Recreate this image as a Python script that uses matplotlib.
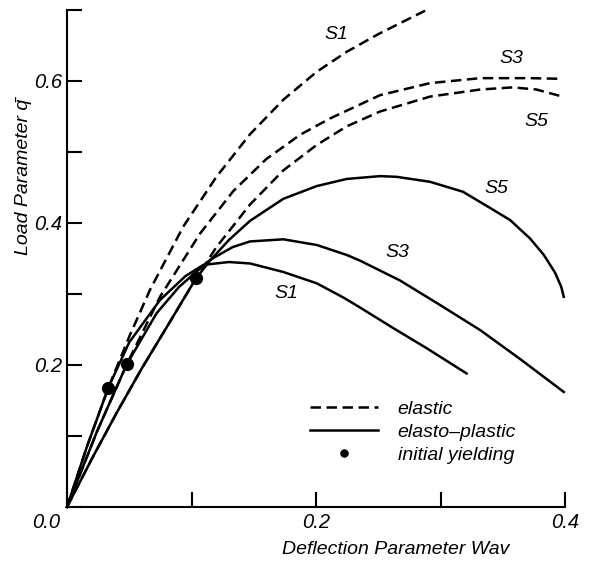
import matplotlib
matplotlib.use("Agg")
import matplotlib.pyplot as plt

plt.rcParams['font.family'] = ['Liberation Sans', 'DejaVu Sans']
plt.rcParams['font.style'] = 'italic'

# elastic curves (dashed)
w_el_s1 = [0, 0.016, 0.0332, 0.05, 0.0667, 0.0934, 0.120, 0.147, 0.174, 0.2006, 0.2246, 0.25, 0.2876]
q_el_s1 = [0, 0.085, 0.168, 0.240, 0.306, 0.395, 0.465, 0.525, 0.574, 0.613, 0.641, 0.666, 0.699]

w_el_s3 = [0, 0.024, 0.048, 0.0747, 0.1068, 0.1336, 0.16, 0.187, 0.211, 0.2514, 0.2916, 0.332, 0.372, 0.398]
q_el_s3 = [0, 0.106, 0.201, 0.296, 0.385, 0.445, 0.49, 0.524, 0.547, 0.58, 0.597, 0.604, 0.604, 0.603]

w_el_s5 = [0, 0.02, 0.04, 0.06, 0.08, 0.1036, 0.12, 0.147, 0.1737, 0.2006, 0.2246, 0.2514, 0.2916, 0.332, 0.358, 0.377, 0.398]
q_el_s5 = [0, 0.068, 0.133, 0.195, 0.253, 0.322, 0.366, 0.426, 0.474, 0.51, 0.536, 0.557, 0.578, 0.588, 0.591, 0.588, 0.578]

# elasto-plastic curves (solid)
w_pl_s1 = [0, 0.016, 0.0332, 0.05, 0.0747, 0.095, 0.1095, 0.13, 0.147, 0.1737, 0.2006, 0.222, 0.2353, 0.262, 0.289, 0.321]
q_pl_s1 = [0, 0.085, 0.168, 0.232, 0.2915, 0.325, 0.341, 0.345, 0.343, 0.331, 0.315, 0.295, 0.281, 0.252, 0.2235, 0.188]

w_pl_s3 = [0, 0.024, 0.048, 0.072, 0.09, 0.1149, 0.133, 0.147, 0.1737, 0.2006, 0.2246, 0.2353, 0.2675, 0.2996, 0.332, 0.365, 0.399]
q_pl_s3 = [0, 0.106, 0.201, 0.273, 0.31, 0.348, 0.366, 0.374, 0.377, 0.369, 0.355, 0.347, 0.319, 0.2845, 0.249, 0.207, 0.162]

w_pl_s5 = [0, 0.02, 0.04, 0.06, 0.08, 0.1036, 0.1149, 0.13, 0.147, 0.1737, 0.2006, 0.2246, 0.2515, 0.2648,
           0.2916, 0.318, 0.34, 0.356, 0.372, 0.383, 0.392, 0.397, 0.399]
q_pl_s5 = [0, 0.068, 0.133, 0.195, 0.253, 0.322, 0.347, 0.376, 0.403, 0.434, 0.452, 0.462, 0.466, 0.465,
           0.458, 0.444, 0.421, 0.404, 0.378, 0.355, 0.33, 0.31, 0.296]

# initial yielding points
w_yield = [0.0332, 0.048, 0.1036]
q_yield = [0.168, 0.201, 0.322]

curve_names = ['S1', 'S3', 'S5', 'S5', 'S3', 'S1']
name_pos = [(0.2166, 0.665), (0.357, 0.632), (0.377, 0.543),
            (0.345, 0.449), (0.265, 0.358), (0.1765, 0.301)]

x_ticks = [0, 0.1, 0.2, 0.3, 0.4]
x_tick_labels = ['', '', '0.2', '', '0.4']
y_ticks = [0, 0.1, 0.2, 0.3, 0.4, 0.5, 0.6, 0.7]
y_tick_labels = ['', '', '0.2', '', '0.4', '', '0.6', '']

fig = plt.figure(figsize=(5.92, 5.61), dpi=100)
ax = fig.add_axes([0.1132, 0.0963, 0.8412, 0.8859])

lw = 1.8
dash = (0, (4.2, 2.2))
elastic = [(w_el_s1, q_el_s1), (w_el_s3, q_el_s3), (w_el_s5, q_el_s5)]
plastic = [(w_pl_s1, q_pl_s1), (w_pl_s3, q_pl_s3), (w_pl_s5, q_pl_s5)]
h_el = h_pl = None
for w, q in elastic:
    h_el, = ax.plot(w, q, color='black', lw=lw, linestyle=dash, clip_on=False)
for w, q in plastic:
    h_pl, = ax.plot(w, q, color='black', lw=lw, clip_on=False)
h_dot, = ax.plot(w_yield, q_yield, 'o', color='black', markersize=8.5, linestyle='none', zorder=5)

for name, (x, y) in zip(curve_names, name_pos):
    ax.text(x, y, name, fontsize=14, ha='center', va='center')

ax.set_xlim(0, 0.4)
ax.set_ylim(0, 0.7)
ax.set_xticks(x_ticks)
ax.set_xticklabels(x_tick_labels)
ax.set_yticks(y_ticks)
ax.set_yticklabels(y_tick_labels)
ax.tick_params(direction='in', length=10.5, width=1.5, labelsize=14.5)
ax.tick_params(axis='x', pad=4.5)
ax.tick_params(axis='y', pad=3.5)
for s in ['top', 'right']:
    ax.spines[s].set_visible(False)
for s in ['left', 'bottom']:
    ax.spines[s].set_linewidth(1.5)

ax.annotate('0.0', xy=(0, 0), xycoords='axes fraction', xytext=(-5, -4.5),
            textcoords='offset points', ha='right', va='top', fontsize=14.5)

ax.text(0.659, -0.085, 'Deflection Parameter Wav', transform=ax.transAxes,
        ha='center', va='center', fontsize=14)
ax.text(-0.088, 0.664, 'Load Parameter q\u0304', transform=ax.transAxes,
        ha='center', va='center', rotation=90, fontsize=14)

leg = ax.legend([h_el, h_pl, h_dot], ['elastic', 'elasto\u2013plastic', 'initial yielding'],
                loc='upper left', bbox_to_anchor=(0.488, 0.215), frameon=False,
                fontsize=14, handlelength=3.5, handletextpad=1.0, labelspacing=0.28,
                borderaxespad=0, borderpad=0, markerscale=0.6)

fig.savefig('out.png', dpi=100)
